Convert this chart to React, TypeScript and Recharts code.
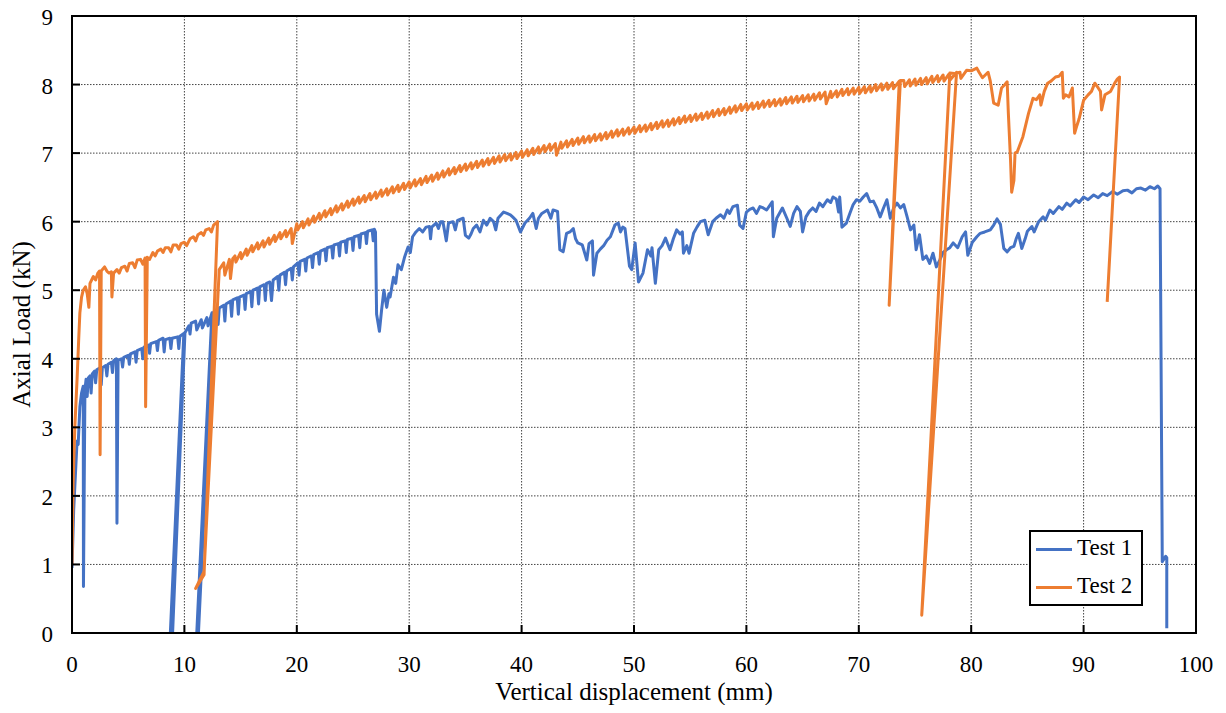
import React from 'react';
import { LineChart, Line, XAxis, YAxis, CartesianGrid, ReferenceArea, Label } from 'recharts';

const xTicks = [0, 10, 20, 30, 40, 50, 60, 70, 80, 90, 100];
const yTicks = [0, 1, 2, 3, 4, 5, 6, 7, 8, 9];
const seriesNames = ['Test 1', 'Test 2'];
const seriesColors = ['#4472C4', '#ED7D31'];
const xTitle = 'Vertical displacement (mm)';
const yTitle = 'Axial Load (kN)';

// Test 1: [displacement mm, load kN]
const test1Points: [number, number][] = [
  [0, 0.95], [0.15, 1.8], [0.3, 2.3], [0.45, 2.8], [0.55, 2.75], [0.7, 3.3], [0.85, 3.5], [1.0, 3.6], [1.02, 0.68],
  [1.15, 3.55], [1.25, 3.7], [1.35, 3.45], [1.45, 3.72], [1.6, 3.75], [1.7, 3.5], [1.8, 3.78], [2.0, 3.82], [2.1, 3.65],
  [2.2, 3.84], [2.5, 3.87], [2.6, 3.62], [2.7, 3.87], [3.0, 3.9], [3.1, 3.75], [3.2, 3.92], [3.5, 3.95], [3.6, 3.8],
  [3.7, 3.97], [3.95, 4.0], [4.0, 1.6], [4.1, 3.98], [4.4, 4.0], [4.5, 3.88], [4.6, 4.02], [5.0, 4.05], [5.1, 3.92],
  [5.2, 4.07], [5.6, 4.1], [5.7, 3.95], [5.8, 4.12], [6.2, 4.15], [6.3, 4.0], [6.4, 4.17], [6.8, 4.2], [6.9, 4.08],
  [7.0, 4.22], [7.5, 4.25], [7.6, 4.12], [7.7, 4.27], [8.1, 4.3], [8.2, 4.1], [8.3, 4.28], [8.7, 4.3], [8.8, 4.15],
  [8.9, 4.3], [9.4, 4.32], [9.5, 4.15], [9.6, 4.33], [9.95, 4.37], [8.75, 0], [8.95, 0], [10.05, 4.38], [10.4, 4.48],
  [10.5, 4.36], [10.6, 4.52], [11.0, 4.55], [11.1, 4.42], [11.5, 4.57], [11.6, 4.45], [12.0, 4.6], [12.1, 4.48],
  [12.45, 4.67], [11.1, 0], [11.25, 0], [12.6, 4.68],
  [12.9, 4.72], [13.0, 4.5], [13.1, 4.74], [13.5, 4.78], [13.6, 4.55], [13.7, 4.8], [14.1, 4.84], [14.2, 4.62],
  [14.3, 4.86], [14.7, 4.89], [14.8, 4.65], [14.9, 4.9], [15.3, 4.93], [15.4, 4.72], [15.5, 4.95], [15.9, 4.98],
  [16.0, 4.76], [16.1, 5.0], [16.5, 5.03], [16.6, 4.8], [16.7, 5.05], [17.1, 5.08], [17.2, 4.85], [17.3, 5.1],
  [17.6, 5.12], [17.75, 4.85], [17.9, 5.15], [18.3, 5.2], [18.4, 5.0], [18.5, 5.22], [18.9, 5.26], [19.0, 5.08],
  [19.1, 5.28], [19.5, 5.32], [19.6, 5.15], [19.7, 5.34], [20.1, 5.4], [20.2, 5.22], [20.3, 5.42], [20.7, 5.45],
  [20.8, 5.28], [20.9, 5.47], [21.3, 5.5], [21.4, 5.33], [21.5, 5.52], [21.9, 5.55], [22.0, 5.38], [22.1, 5.57],
  [22.5, 5.6], [22.6, 5.43], [22.7, 5.62], [23.1, 5.64], [23.2, 5.47], [23.3, 5.66], [23.7, 5.68], [23.8, 5.5],
  [23.9, 5.7], [24.3, 5.72], [24.4, 5.55], [24.5, 5.74], [24.9, 5.76], [25.0, 5.58], [25.1, 5.78], [25.5, 5.8],
  [25.6, 5.62], [25.7, 5.82], [26.1, 5.84], [26.2, 5.68], [26.3, 5.86], [26.7, 5.88], [26.8, 5.72], [26.9, 5.89],
  [27.0, 5.85], [27.1, 4.65], [27.35, 4.4], [27.55, 4.72], [27.75, 5.0], [27.9, 4.85], [28.0, 4.75], [28.2, 4.95],
  [28.3, 4.9], [28.6, 5.19], [28.8, 5.1], [29.0, 5.37], [29.3, 5.3], [29.6, 5.49], [29.9, 5.63], [30.1, 5.55],
  [30.3, 5.78], [30.6, 5.85], [30.9, 5.9], [31.2, 5.85], [31.5, 5.92], [31.8, 5.93], [31.9, 5.75], [32.0, 5.92],
  [32.4, 5.98], [32.6, 5.9], [32.8, 6.0], [33.0, 6.0], [33.3, 5.72], [33.5, 5.98], [33.9, 6.0], [34.1, 5.88],
  [34.3, 6.02], [34.8, 6.05], [35.0, 5.8], [35.3, 5.76], [35.5, 5.82], [35.7, 5.9], [36.0, 5.95], [36.3, 5.85],
  [36.6, 6.02], [36.9, 5.95], [37.2, 6.05], [37.5, 6.0], [37.7, 5.88], [37.9, 6.05], [38.4, 6.14], [38.7, 6.12],
  [39.0, 6.1], [39.2, 6.07], [39.5, 6.02], [39.9, 5.85], [40.3, 5.98], [40.7, 6.05], [41.0, 6.12], [41.3, 5.9],
  [41.5, 6.05], [41.8, 6.12], [42.3, 6.17], [42.6, 6.05], [42.8, 6.17], [43.2, 6.15], [43.4, 5.59], [43.7, 5.56],
  [44.0, 5.83], [44.3, 5.85], [44.6, 5.9], [44.8, 5.75], [45.0, 5.69], [45.4, 5.66], [45.8, 5.44], [46.0, 5.68],
  [46.3, 5.72], [46.4, 5.22], [46.7, 5.54], [47.0, 5.6], [47.3, 5.65], [47.6, 5.73], [47.9, 5.78], [48.3, 5.95],
  [48.6, 5.98], [48.8, 5.85], [49.0, 5.92], [49.2, 5.9], [49.6, 5.35], [49.8, 5.3], [50.1, 5.69], [50.4, 5.12],
  [50.8, 5.25], [51.2, 5.59], [51.5, 5.5], [51.6, 5.62], [51.9, 5.1], [52.2, 5.59], [52.5, 5.65], [52.8, 5.76],
  [53.2, 5.59], [53.5, 5.75], [53.8, 5.88], [54.1, 5.82], [54.3, 5.85], [54.4, 5.54], [54.7, 5.65], [54.9, 5.54],
  [55.3, 5.83], [55.6, 5.92], [55.9, 6.0], [56.3, 6.02], [56.6, 5.81], [57.0, 6.0], [57.3, 6.05], [57.7, 6.1],
  [58.0, 6.05], [58.3, 6.17], [58.5, 6.12], [58.8, 6.22], [59.2, 6.24], [59.4, 5.95], [59.7, 5.9], [60.0, 6.14],
  [60.3, 6.18], [60.6, 6.2], [60.9, 6.12], [61.2, 6.22], [61.5, 6.2], [61.8, 6.17], [62.3, 6.29], [62.4, 5.78],
  [62.7, 6.05], [63.2, 6.2], [63.6, 6.05], [63.9, 5.93], [64.2, 6.12], [64.5, 6.22], [64.8, 6.15], [65.0, 5.85],
  [65.3, 6.07], [65.6, 6.15], [65.9, 6.2], [66.2, 6.15], [66.5, 6.27], [66.8, 6.22], [67.2, 6.32], [67.5, 6.28],
  [67.7, 6.36], [68.0, 6.33], [68.2, 6.14], [68.3, 6.36], [68.5, 5.92], [68.9, 5.98], [69.2, 6.12], [69.5, 6.25],
  [69.8, 6.32], [70.1, 6.3], [70.4, 6.36], [70.7, 6.41], [71.0, 6.29], [71.3, 6.3], [71.6, 6.2], [71.9, 6.07],
  [72.2, 6.2], [72.5, 6.32], [72.8, 6.05], [73.1, 6.2], [73.4, 6.27], [73.7, 6.2], [74.0, 6.25], [74.3, 6.07],
  [74.6, 5.88], [74.9, 5.95], [75.1, 5.59], [75.4, 5.81], [75.7, 5.45], [76.0, 5.5], [76.3, 5.39], [76.6, 5.54],
  [76.9, 5.34], [77.2, 5.44], [77.5, 5.55], [77.8, 5.59], [78.1, 5.62], [78.4, 5.69], [78.8, 5.62], [79.2, 5.78],
  [79.5, 5.85], [79.7, 5.51], [80.1, 5.7], [80.5, 5.78], [80.8, 5.83], [81.2, 5.85], [81.7, 5.88], [82.0, 5.95],
  [82.3, 6.04], [82.6, 5.96], [82.9, 5.61], [83.2, 5.56], [83.5, 5.62], [83.8, 5.64], [84.0, 5.75], [84.2, 5.83],
  [84.5, 5.61], [84.8, 5.75], [85.0, 5.86], [85.4, 5.93], [85.6, 5.85], [86.0, 6.0], [86.4, 6.07], [86.6, 6.02],
  [87.0, 6.17], [87.3, 6.12], [87.8, 6.22], [88.1, 6.18], [88.5, 6.27], [88.8, 6.23], [89.3, 6.32], [89.6, 6.28],
  [90.0, 6.36], [90.4, 6.32], [90.9, 6.39], [91.3, 6.35], [91.7, 6.41], [92.1, 6.38], [92.6, 6.44], [93.0, 6.4],
  [93.5, 6.45], [93.9, 6.46], [94.3, 6.42], [94.7, 6.48], [95.1, 6.49], [95.5, 6.46], [95.9, 6.51], [96.3, 6.48],
  [96.6, 6.52], [96.8, 6.48], [97.0, 1.04], [97.3, 1.12], [97.4, 1.1], [97.4, 0.07],
];

// Test 2: [displacement mm, load kN]
const test2Points: [number, number][] = [
  [0, 1.0], [0.1, 2.2], [0.25, 3.0], [0.45, 3.7], [0.6, 4.3], [0.7, 4.67], [0.85, 4.9], [1.0, 5.0], [1.2, 5.05],
  [1.35, 4.95], [1.5, 4.75], [1.6, 5.1], [1.9, 5.2], [2.1, 5.15], [2.3, 5.25], [2.45, 5.28], [2.5, 2.6], [2.6, 5.28],
  [2.9, 5.34], [3.1, 5.28], [3.3, 5.25], [3.5, 5.27], [3.55, 4.9], [3.7, 5.25], [4.0, 5.3], [4.2, 5.25], [4.4, 5.33],
  [4.7, 5.35], [4.9, 5.28], [5.1, 5.39], [5.4, 5.4], [5.6, 5.33], [5.8, 5.44], [6.1, 5.45], [6.3, 5.38], [6.5, 5.47],
  [6.55, 3.3], [6.7, 5.48], [6.9, 5.45], [7.2, 5.55], [7.4, 5.5], [7.6, 5.57], [7.9, 5.6], [8.1, 5.55], [8.3, 5.62],
  [8.6, 5.62], [8.8, 5.56], [9.0, 5.66], [9.3, 5.66], [9.5, 5.6], [9.7, 5.68], [10.0, 5.7], [10.2, 5.65], [10.5, 5.75],
  [10.8, 5.78], [11.0, 5.72], [11.2, 5.81], [11.5, 5.84], [11.7, 5.8], [11.9, 5.88], [12.2, 5.9], [12.4, 5.85],
  [12.6, 5.95], [12.95, 6.0], [11.75, 0.85], [11.0, 0.65], [11.3, 0.75], [11.75, 0.9], [13.1, 5.3],
  [13.5, 5.4], [13.6, 5.22], [14.0, 5.45], [14.1, 5.17], [14.3, 5.46], [14.5, 5.5], [14.58, 5.41],
  [15.0, 5.55], [15.08, 5.46], [15.5, 5.6], [15.58, 5.51], [16.0, 5.65], [16.08, 5.56], [16.5, 5.69], [16.58, 5.6],
  [17.0, 5.72], [17.08, 5.63], [17.5, 5.76], [17.58, 5.67], [18.0, 5.8], [18.08, 5.71], [18.5, 5.84], [18.58, 5.75],
  [19.0, 5.87], [19.08, 5.78], [19.5, 5.9], [19.6, 5.68], [20.0, 5.97], [20.08, 5.88], [20.5, 6.0], [20.58, 5.91],
  [21.0, 6.04], [21.08, 5.95], [21.5, 6.08], [21.58, 5.99], [22.0, 6.12], [22.08, 6.03], [22.5, 6.16], [22.58, 6.07],
  [23.0, 6.19], [23.08, 6.1], [23.5, 6.23], [23.58, 6.14], [24.0, 6.26], [24.08, 6.17], [24.5, 6.3], [24.58, 6.21],
  [25.0, 6.33], [25.08, 6.24], [25.5, 6.36], [25.58, 6.27], [26.0, 6.38], [26.08, 6.29], [26.5, 6.41], [26.58, 6.32],
  [27.0, 6.43], [27.08, 6.34], [27.5, 6.46], [27.58, 6.37], [28.0, 6.48], [28.08, 6.39], [28.5, 6.51], [28.58, 6.42],
  [29.0, 6.53], [29.08, 6.44], [29.5, 6.56], [29.58, 6.47], [30.0, 6.58], [30.08, 6.49], [30.5, 6.61], [30.58, 6.52],
  [31.0, 6.63], [31.08, 6.54], [31.5, 6.66], [31.58, 6.57], [32.0, 6.68], [32.08, 6.59], [32.5, 6.71], [32.58, 6.62],
  [33.0, 6.74], [33.08, 6.65], [33.5, 6.77], [33.58, 6.68], [34.0, 6.79], [34.08, 6.7], [34.5, 6.82], [34.58, 6.73],
  [35.0, 6.84], [35.08, 6.75], [35.5, 6.86], [35.58, 6.77], [36.0, 6.88], [36.08, 6.79], [36.5, 6.9], [36.58, 6.81],
  [37.0, 6.92], [37.08, 6.83], [37.5, 6.94], [37.58, 6.85], [38.0, 6.96], [38.08, 6.87], [38.5, 6.98], [38.58, 6.89],
  [39.0, 6.99], [39.08, 6.9], [39.5, 7.01], [39.58, 6.92], [40.0, 7.03], [40.08, 6.94], [40.5, 7.05], [40.58, 6.96],
  [41.0, 7.07], [41.08, 6.98], [41.5, 7.09], [41.58, 7.0], [42.0, 7.11], [42.08, 7.02], [42.5, 7.13], [42.58, 7.04],
  [43.0, 7.14], [43.1, 6.97], [43.5, 7.16], [43.58, 7.07], [44.0, 7.18], [44.08, 7.09], [44.5, 7.2], [44.58, 7.11],
  [45.0, 7.22], [45.08, 7.13], [45.5, 7.24], [45.58, 7.15], [46.0, 7.25], [46.08, 7.16], [46.5, 7.27], [46.58, 7.18],
  [47.0, 7.28], [47.08, 7.19], [47.5, 7.3], [47.58, 7.21], [48.0, 7.32], [48.08, 7.23], [48.5, 7.34], [48.58, 7.25],
  [49.0, 7.35], [49.08, 7.26], [49.5, 7.37], [49.58, 7.28], [50.0, 7.38], [50.08, 7.29], [50.5, 7.4], [50.58, 7.31],
  [51.0, 7.41], [51.08, 7.32], [51.5, 7.43], [51.58, 7.34], [52.0, 7.45], [52.08, 7.36], [52.5, 7.47], [52.58, 7.38],
  [53.0, 7.48], [53.08, 7.39], [53.5, 7.5], [53.58, 7.41], [54.0, 7.52], [54.08, 7.43], [54.5, 7.54], [54.58, 7.45],
  [55.0, 7.55], [55.08, 7.46], [55.5, 7.57], [55.58, 7.48], [56.0, 7.58], [56.08, 7.49], [56.5, 7.6], [56.58, 7.51],
  [57.0, 7.62], [57.08, 7.53], [57.5, 7.64], [57.58, 7.55], [58.0, 7.65], [58.08, 7.56], [58.5, 7.67], [58.58, 7.58],
  [59.0, 7.69], [59.08, 7.6], [59.5, 7.71], [59.58, 7.62], [60.0, 7.72], [60.08, 7.63], [60.5, 7.73], [60.58, 7.64],
  [61.0, 7.74], [61.08, 7.65], [61.5, 7.76], [61.58, 7.67], [62.0, 7.77], [62.08, 7.68], [62.5, 7.78], [62.58, 7.69],
  [63.0, 7.79], [63.08, 7.7], [63.5, 7.81], [63.58, 7.72], [64.0, 7.82], [64.08, 7.73], [64.5, 7.83], [64.58, 7.74],
  [65.0, 7.84], [65.08, 7.75], [65.5, 7.85], [65.58, 7.76], [66.0, 7.86], [66.08, 7.77], [66.5, 7.88], [66.58, 7.79],
  [67.0, 7.89], [67.1, 7.72], [67.5, 7.9], [67.58, 7.81], [68.0, 7.91], [68.08, 7.82], [68.5, 7.93], [68.58, 7.84],
  [69.0, 7.94], [69.08, 7.85], [69.5, 7.95], [69.58, 7.86], [70.0, 7.96], [70.08, 7.87], [70.5, 7.97], [70.58, 7.88],
  [71.0, 7.98], [71.08, 7.89], [71.5, 8.0], [71.58, 7.91], [72.0, 8.01], [72.08, 7.92], [72.5, 8.02], [72.58, 7.93],
  [73.0, 8.03], [73.08, 7.94], [73.6, 8.05], [72.7, 4.78], [73.7, 8.06], [74.0, 8.06], [74.08, 7.97], [74.5, 8.07],
  [74.58, 7.98], [75.0, 8.08], [75.08, 7.99], [75.5, 8.09], [75.58, 8.0], [76.0, 8.1], [76.08, 8.01], [76.5, 8.12],
  [76.58, 8.03], [77.0, 8.13], [77.08, 8.04], [77.5, 8.14], [77.58, 8.05], [78.0, 8.15], [78.08, 8.06], [78.7, 8.18],
  [75.6, 0.26], [78.1, 8.17], [78.5, 8.16], [79.0, 8.18], [79.08, 8.09], [79.6, 8.21], [80.0, 8.2], [80.5, 8.24],
  [80.7, 8.18], [81.0, 8.1], [81.5, 8.18], [81.7, 8.05], [82.0, 7.73],
  [82.4, 7.7], [82.7, 7.95], [83.0, 8.0], [83.2, 8.04], [83.3, 7.6], [83.5, 6.9], [83.6, 6.43], [83.8, 6.6],
  [83.9, 7.0], [84.1, 7.02], [84.6, 7.24], [85.1, 7.58], [85.5, 7.8], [85.8, 7.78], [86.1, 7.85], [86.2, 7.7],
  [86.5, 7.9], [86.8, 8.02], [87.1, 8.05], [87.5, 8.11], [87.8, 8.12], [88.1, 8.18], [88.2, 7.8], [88.4, 7.85],
  [88.7, 7.82], [89.0, 7.95], [89.2, 7.29], [89.4, 7.4], [89.6, 7.5], [90.0, 7.77], [90.4, 7.85], [90.7, 7.9],
  [91.0, 8.02], [91.3, 7.95], [91.5, 7.9], [91.6, 7.63], [91.9, 7.85], [92.2, 7.88], [92.4, 7.9], [92.8, 8.03],
  [93.0, 8.08], [93.2, 8.11], [92.1, 4.83],
];

const toRows = (pts: [number, number][]) => pts.map(([x, y]) => ({ x, y }));
const seriesData = [toRows(test1Points), toRows(test2Points)];

const FONT = 'Liberation Serif, DejaVu Serif, serif';
const FS = 23;
const TITLE_FS = 25;

const XTick = (props: any) => {
  const { x, y, payload } = props;
  return (
    <g>
      <line x1={x} x2={x} y1={y} y2={y - 8} stroke="#000" strokeWidth={2} />
      <text x={x} y={y + 39} textAnchor="middle" style={{ fontFamily: FONT, fontSize: FS }} fill="#000">
        {payload.value}
      </text>
    </g>
  );
};

const YTick = (props: any) => {
  const { x, y, payload } = props;
  return (
    <g>
      <line x1={x} x2={x + 8} y1={y} y2={y} stroke="#000" strokeWidth={2} />
      <text x={x - 19} y={y + 9} textAnchor="end" style={{ fontFamily: FONT, fontSize: FS }} fill="#000">
        {payload.value}
      </text>
    </g>
  );
};

const XTitle = (props: any) => {
  const vb = props.viewBox || { x: 0, y: 0, width: 0, height: 0 };
  return (
    <text x={vb.x + vb.width / 2} y={vb.y + 67} textAnchor="middle" style={{ fontFamily: FONT, fontSize: TITLE_FS }} fill="#000">
      {xTitle}
    </text>
  );
};

const YTitle = (props: any) => {
  const vb = props.viewBox || { x: 0, y: 0, width: 0, height: 0 };
  const cx = vb.x + vb.width - 42;
  const cy = vb.y + vb.height / 2;
  return (
    <text x={cx} y={cy} transform={`rotate(-90 ${cx} ${cy})`} textAnchor="middle" style={{ fontFamily: FONT, fontSize: TITLE_FS }} fill="#000">
      {yTitle}
    </text>
  );
};

export default function App() {
  return (
    <div style={{ position: 'relative', width: 1226, height: 713, margin: -8, fontFamily: FONT }}>
      <LineChart width={1226} height={713} margin={{ top: 16, right: 30, bottom: 20, left: 32 }}>
        <CartesianGrid stroke="#444" strokeDasharray="1.5 1.5" strokeWidth={1} />
        <XAxis
          dataKey="x"
          type="number"
          domain={[0, 100]}
          ticks={xTicks}
          allowDataOverflow
          height={60}
          tickSize={0}
          tickMargin={0}
          tickLine={false}
          axisLine={{ stroke: '#000', strokeWidth: 2 }}
          tick={<XTick />}
          interval={0}
        >
          <Label content={<XTitle />} />
        </XAxis>
        <YAxis
          type="number"
          domain={[0, 9]}
          ticks={yTicks}
          allowDataOverflow
          width={40}
          tickSize={0}
          tickMargin={0}
          tickLine={false}
          axisLine={{ stroke: '#000', strokeWidth: 2 }}
          tick={<YTick />}
          interval={0}
        >
          <Label content={<YTitle />} />
        </YAxis>
        <ReferenceArea x1={0} x2={100} y1={0} y2={9} fill="none" fillOpacity={0} stroke="#000" strokeWidth={2} />
        {seriesData.map((d, i) => (
          <Line
            key={seriesNames[i]}
            data={d}
            dataKey="y"
            name={seriesNames[i]}
            type="linear"
            stroke={seriesColors[i]}
            strokeWidth={3}
            dot={false}
            activeDot={false}
            isAnimationActive={false}
            strokeLinejoin="round"
          />
        ))}
      </LineChart>
      <div
        style={{
          position: 'absolute',
          left: 1029,
          top: 530,
          width: 114,
          height: 76,
          boxSizing: 'border-box',
          border: '2px solid #000',
          background: '#fff',
          fontFamily: FONT,
          fontSize: FS,
        }}
      >
        {seriesNames.map((n, i) => (
          <div key={n}>
            <div
              style={{
                position: 'absolute',
                left: 5,
                top: 15.5 + i * 38,
                width: 36,
                height: 3,
                background: seriesColors[i],
              }}
            />
            <div style={{ position: 'absolute', left: 46, top: 3 + i * 38, lineHeight: '26px', whiteSpace: 'nowrap' }}>
              {n}
            </div>
          </div>
        ))}
      </div>
    </div>
  );
}
